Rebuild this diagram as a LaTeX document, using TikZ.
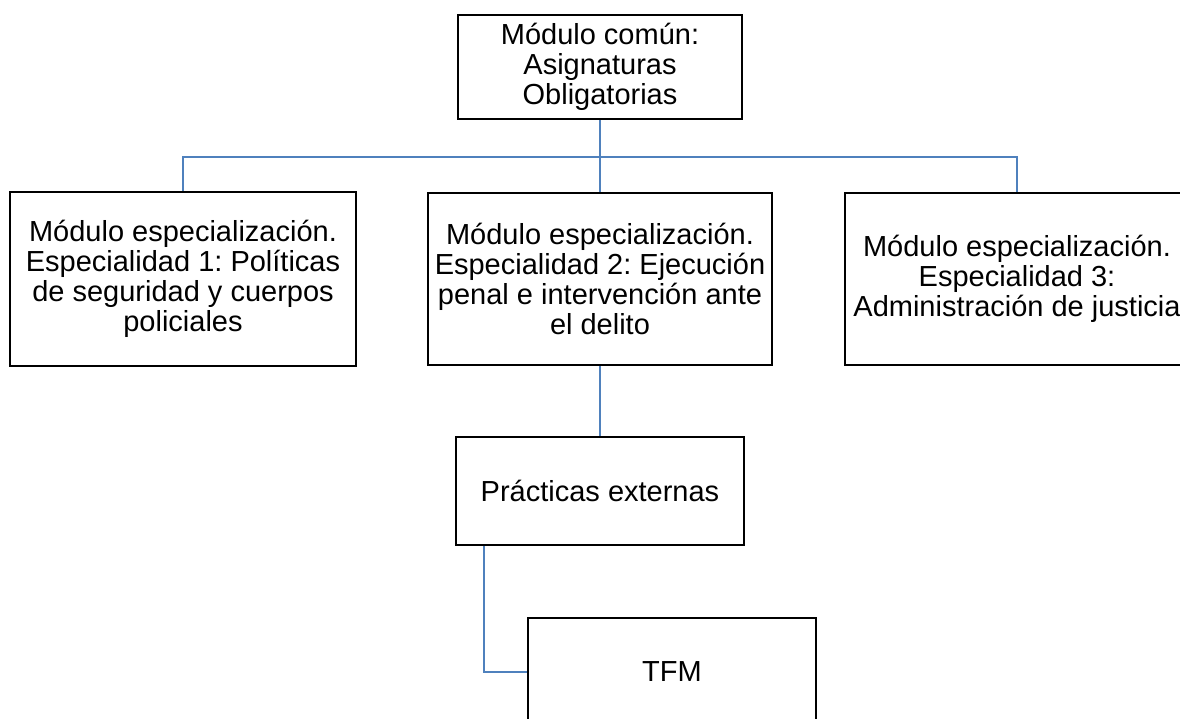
\documentclass[tikz,border=0pt]{standalone}
\usepackage{fontspec}
\setmainfont{Liberation Sans}
\frenchspacing
\definecolor{connblue}{RGB}{79,129,189}
\begin{document}
\begin{tikzpicture}[x=0.75pt,y=-0.75pt,
  box/.style={draw=black,line width=1.6pt,fill=white,inner sep=0pt,align=center,
    font=\fontsize{21.75pt}{22.5pt}\selectfont},
  conn/.style={draw=connblue,line width=1.5pt}]
\clip (0,0) rectangle (1180,718);
\fill[white] (0,0) rectangle (1180,718);
\coordinate (bus) at (600,157);
\node[box,minimum width=213pt,minimum height=78pt] (top) at (600,67) {Módulo común:\\Asignaturas\\Obligatorias};
\node[box,minimum width=259.5pt,minimum height=130.5pt] (b1) at (183,279) {Módulo especialización.\\Especialidad 1: Políticas\\de seguridad y cuerpos\\policiales};
\node[box,minimum width=258pt,minimum height=129pt] (b2) at (600,279) {Módulo especialización.\\Especialidad 2: Ejecución\\penal e intervención ante\\el delito};
\node[box,minimum width=258pt,minimum height=129pt] (b3) at (1017,279) {Módulo especialización.\\Especialidad 3:\\Administración de justicia};
\node[box,minimum width=216pt,minimum height=81pt] (pr) at (600,491) {Prácticas externas};
\node[box,minimum width=216pt,minimum height=81pt] (tfm) at (672,672) {TFM};
\draw[conn] (b1.north) |- (bus) -| (b3.north);
\draw[conn] (top.south) -- (b2.north);
\draw[conn] (b2.south) -- (pr.north);
\draw[conn] ([xshift=21.75pt]pr.south west) |- (tfm.west);
\end{tikzpicture}
\end{document}
